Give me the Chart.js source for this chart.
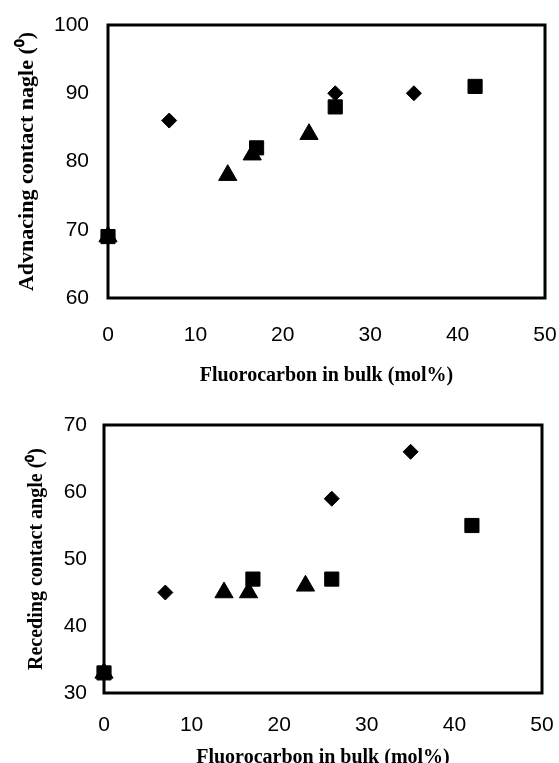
<!DOCTYPE html>
<html>
<head>
<meta charset="utf-8">
<script src="https://cdn.jsdelivr.net/npm/chart.js@4"></script>
<style>
  html, body { margin: 0; padding: 0; background: #fff; overflow: hidden; }
  canvas { position: absolute; left: 0; }
</style>
</head>
<body>
<canvas id="advChart" width="559" height="395" style="top:0"></canvas>
<canvas id="recChart" width="559" height="390" style="top:395px"></canvas>
<script>
// fluorocarbon content (mol%) per series
const diamondX = [7, 26, 35];
const triangleX = [0, 13.7, 16.5, 23];
const squareX = [0, 17, 26, 42];

// advancing contact angle (deg)
const advDiamond = [86, 90, 90];
const advTriangle = [69, 78, 81, 84];
const advSquare = [69, 82, 88, 91];

// receding contact angle (deg)
const recDiamond = [45, 59, 66];
const recTriangle = [33, 45, 45, 46];
const recSquare = [33, 47, 47, 55];

const xTicks = [0, 10, 20, 30, 40, 50];
const advTicks = [60, 70, 80, 90, 100];
const recTicks = [30, 40, 50, 60, 70];

const tickFont = { family: 'Liberation Sans, Arial, sans-serif', size: 21 };
const titleFamily = 'Liberation Serif, Times New Roman, serif';

function pts(xs, ys) {
    return xs.map((x, i) => ({ x: x, y: ys[i] }));
}

const frame = {
    id: 'frame',
    beforeDatasetsDraw(chart) {
        const a = chart.chartArea;
        const ctx = chart.ctx;
        ctx.save();
        ctx.strokeStyle = '#000';
        ctx.lineWidth = 3;
        ctx.strokeRect(a.left, a.top, a.right - a.left, a.bottom - a.top);
        ctx.restore();
    }
};

function makeChart(id, opt) {
    const mark = { backgroundColor: '#000', borderColor: '#000', borderWidth: 1, clip: false };
    return new Chart(document.getElementById(id), {
        type: 'scatter',
        data: {
            datasets: [
                Object.assign({ data: pts(squareX, opt.square), pointStyle: 'rect', pointRadius: 10 }, mark),
                Object.assign({ data: pts(diamondX, opt.diamond), pointStyle: 'rectRot', pointRadius: 7.5 }, mark),
                Object.assign({ data: pts(triangleX, opt.triangle), pointStyle: 'triangle', pointRadius: 10.5 }, mark)
            ]
        },
        options: {
            responsive: false,
            animation: false,
            layout: { padding: opt.padding },
            plugins: { legend: { display: false }, tooltip: { enabled: false } },
            scales: {
                x: {
                    type: 'linear',
                    min: 0,
                    max: 50,
                    afterBuildTicks: (s) => { s.ticks = xTicks.map(v => ({ value: v })); },
                    afterFit: (s) => {
                        s.height = opt.xHeight;
                        s.paddingLeft = 0;
                        s.paddingRight = 0;
                    },
                    grid: { display: false, drawTicks: false },
                    border: { display: false },
                    ticks: { color: '#000', font: tickFont, padding: opt.xPad },
                    title: {
                        display: true,
                        text: 'Fluorocarbon in bulk (mol%)',
                        color: '#000',
                        font: { family: titleFamily, size: 20, weight: 'bold', lineHeight: 1.2 },
                        padding: { top: 0, bottom: opt.xTitlePad }
                    }
                },
                y: {
                    type: 'linear',
                    min: opt.yTicks[0],
                    max: opt.yTicks[opt.yTicks.length - 1],
                    afterBuildTicks: (s) => { s.ticks = opt.yTicks.map(v => ({ value: v })); },
                    afterFit: (s) => {
                        s.width = opt.yWidth;
                        s.paddingTop = 0;
                        s.paddingBottom = 0;
                    },
                    grid: { display: false, drawTicks: false },
                    border: { display: false },
                    ticks: { color: '#000', font: tickFont, padding: opt.yPad },
                    title: {
                        display: true,
                        text: opt.yTitle,
                        color: '#000',
                        font: { family: titleFamily, size: opt.yTitleSize, weight: 'bold', lineHeight: 1.2 },
                        padding: { top: opt.yTitlePad, bottom: 0 }
                    }
                }
            }
        },
        plugins: [frame]
    });
}

makeChart('advChart', {
    diamond: advDiamond,
    triangle: advTriangle,
    square: advSquare,
    yTicks: advTicks,
    yTitle: 'Advnacing contact nagle (\u2070)',
    yTitleSize: 22,
    yTitlePad: 14,
    padding: { left: 0, top: 25, right: 14, bottom: 0 },
    yWidth: 108,
    xHeight: 97,
    xPad: 25,
    yPad: 19,
    xTitlePad: 7
});

makeChart('recChart', {
    diamond: recDiamond,
    triangle: recTriangle,
    square: recSquare,
    yTicks: recTicks,
    yTitle: 'Receding contact angle (\u2070)',
    yTitleSize: 20,
    yTitlePad: 25,
    padding: { left: 0, top: 30, right: 17, bottom: 0 },
    yWidth: 104,
    xHeight: 92,
    xPad: 20,
    yPad: 17,
    xTitlePad: 15
});
</script>
</body>
</html>
